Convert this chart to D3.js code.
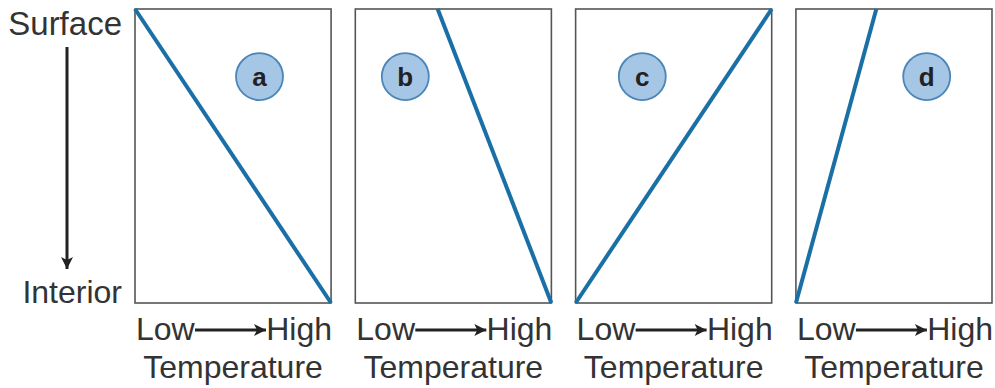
<!DOCTYPE html>
<html>
<head>
<meta charset="utf-8">
<script src="https://cdn.jsdelivr.net/npm/d3@7"></script>
<style>
  html, body { margin: 0; padding: 0; background: #fff; }
  svg text { font-family: "Liberation Sans", Arial, sans-serif; fill: #333; }
</style>
</head>
<body>
<svg id="svg"></svg>
<script>

// panel letters and temperature profile (0 = low, 1 = high) at surface and interior
const panelLabels = ["a", "b", "c", "d"];
const surfaceTemp = [0, 0.42, 1, 0.41];
const interiorTemp = [1, 1, 0, 0];

// where the letter badge sits inside each panel (temperature, depth)
const badgeTemp = [0.635, 0.255, 0.34, 0.667];
const badgeDepth = [0.23, 0.23, 0.23, 0.23];

const width = 995;
const height = 388;

let svg = d3.select("#svg")
    .attr("width", width)
    .attr("height", height);

const top_ = 9, bottom = 303;

let panelScale = d3.scaleBand()
    .domain(panelLabels)
    .range([135, 992])
    .paddingInner(0.11)
    .paddingOuter(0);

let depthScale = d3.scaleLinear()
    .domain([0, 1])
    .range([top_, bottom]);

// arrow heads
let defs = svg.append("defs");
defs.append("marker")
    .attr("id", "head")
    .attr("viewBox", "0 0 10 10")
    .attr("refX", 10)
    .attr("refY", 5)
    .attr("markerUnits", "userSpaceOnUse")
    .attr("markerWidth", 17)
    .attr("markerHeight", 12)
    .attr("orient", "auto")
    .append("path")
    .attr("d", "M0,0 L10,5 L0,10 L2.5,5 Z")
    .attr("fill", "#222");

// left depth axis labels
svg.append("text")
    .attr("x", 122)
    .attr("y", 35)
    .attr("text-anchor", "end")
    .style("font-size", "33px")
    .text("Surface");

svg.append("text")
    .attr("x", 122)
    .attr("y", 303)
    .attr("text-anchor", "end")
    .style("font-size", "32px")
    .text("Interior");

svg.append("line")
    .attr("x1", 67).attr("y1", 47)
    .attr("x2", 67).attr("y2", 269)
    .attr("stroke", "#222")
    .attr("stroke-width", 3)
    .attr("marker-end", "url(#head)");

panelLabels.forEach((lab, i) => {
    let x0 = panelScale(lab);
    let tempScale = d3.scaleLinear()
        .domain([0, 1])
        .range([x0, x0 + panelScale.bandwidth()]);

    let g = svg.append("g").attr("class", "panel");

    g.append("rect")
        .attr("x", x0)
        .attr("y", top_)
        .attr("width", panelScale.bandwidth())
        .attr("height", bottom - top_)
        .attr("fill", "none")
        .attr("stroke", "#555")
        .attr("stroke-width", 1.6);

    let profile = [[surfaceTemp[i], 0], [interiorTemp[i], 1]];
    g.append("path")
        .attr("d", d3.line().x(d => tempScale(d[0])).y(d => depthScale(d[1]))(profile))
        .attr("stroke", "#1a70a6")
        .attr("stroke-width", 4)
        .attr("fill", "none");

    let cx = tempScale(badgeTemp[i]);
    let cy = depthScale(badgeDepth[i]);
    g.append("circle")
        .attr("cx", cx)
        .attr("cy", cy)
        .attr("r", 23.5)
        .attr("fill", "#a6c6e6")
        .attr("stroke", "#4a86b8")
        .attr("stroke-width", 1.8);
    g.append("text")
        .attr("x", cx)
        .attr("y", cy + 9)
        .attr("text-anchor", "middle")
        .style("font-size", "26px")
        .style("font-weight", "bold")
        .style("fill", "#222")
        .text(lab);

    // x axis caption
    g.append("text")
        .attr("x", x0 + 1)
        .attr("y", 340)
        .style("font-size", "32px")
        .text("Low");
    g.append("text")
        .attr("x", x0 + panelScale.bandwidth() + 1)
        .attr("y", 340)
        .attr("text-anchor", "end")
        .style("font-size", "32px")
        .text("High");
    g.append("line")
        .attr("x1", x0 + 60).attr("y1", 330)
        .attr("x2", x0 + 131).attr("y2", 330)
        .attr("stroke", "#222")
        .attr("stroke-width", 3)
        .attr("marker-end", "url(#head)");
    g.append("text")
        .attr("x", x0 + panelScale.bandwidth() / 2)
        .attr("y", 378)
        .attr("text-anchor", "middle")
        .style("font-size", "32px")
        .text("Temperature");
});

</script>
</body>
</html>
